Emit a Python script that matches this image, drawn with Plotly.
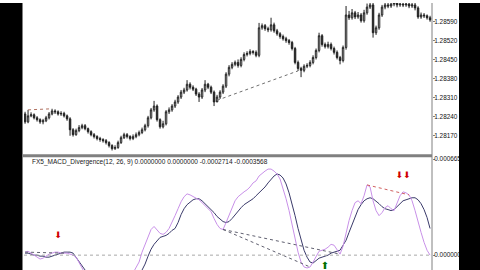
import plotly.graph_objects as go

# ---------------- data (prices in 1e-5 units, MACD in 1e-6 units) ----------------
opens = [128250, 128221, 128243, 128247, 128236, 128229, 128221, 128225, 128236, 128250,
         128261, 128258, 128250, 128252, 128243, 128232, 128192, 128174, 128189, 128200,
         128207, 128196, 128185, 128174, 128167, 128160, 128156, 128152, 128145, 128134,
         128123, 128127, 128145, 128163, 128174, 128167, 128160, 128167, 128174, 128182,
         128192, 128207, 128236, 128265, 128279, 128229, 128203, 128214, 128258, 128265,
         128279, 128294, 128312, 128330, 128338, 128359, 128348, 128341, 128323, 128312,
         128338, 128359, 128348, 128330, 128294, 128312, 128330, 128352, 128396, 128421,
         128432, 128439, 128428, 128450, 128468, 128472, 128479, 128476, 128465, 128566,
         128574, 128563, 128559, 128577, 128555, 128544, 128534, 128526, 128519, 128512,
         128490, 128439, 128417, 128410, 128425, 128428, 128439, 128457, 128483, 128537,
         128505, 128497, 128505, 128490, 128476, 128457, 128446, 128494, 128613, 128603,
         128621, 128606, 128613, 128592, 128621, 128642, 128650, 128548, 128566, 128613,
         128642, 128650, 128646, 128653, 128657, 128650, 128653, 128650, 128653, 128646,
         128650, 128639, 128606, 128613, 128610, 128603]
closes = [128221, 128243, 128247, 128236, 128229, 128221, 128225, 128236, 128250, 128261,
          128258, 128250, 128252, 128243, 128232, 128192, 128174, 128189, 128200, 128207,
          128196, 128185, 128174, 128167, 128160, 128156, 128152, 128145, 128134, 128123,
          128127, 128145, 128163, 128174, 128167, 128160, 128167, 128174, 128182, 128192,
          128207, 128236, 128265, 128279, 128229, 128203, 128214, 128258, 128265, 128279,
          128294, 128312, 128330, 128338, 128359, 128348, 128341, 128323, 128312, 128338,
          128359, 128348, 128330, 128294, 128312, 128330, 128352, 128396, 128421, 128432,
          128439, 128428, 128450, 128468, 128472, 128479, 128476, 128465, 128566, 128574,
          128563, 128559, 128577, 128555, 128544, 128534, 128526, 128519, 128512, 128490,
          128439, 128417, 128410, 128425, 128428, 128439, 128457, 128483, 128537, 128505,
          128497, 128505, 128490, 128476, 128457, 128446, 128494, 128613, 128603, 128621,
          128606, 128613, 128592, 128621, 128642, 128650, 128548, 128566, 128613, 128642,
          128650, 128646, 128653, 128657, 128650, 128653, 128650, 128653, 128646, 128650,
          128639, 128606, 128613, 128610, 128603, 128595]
highs = [128258, 128265, 128256, 128252, 128242, 128234, 128232, 128243, 128257, 128269,
         128267, 128263, 128260, 128258, 128248, 128238, 128198, 128196, 128209, 128214,
         128213, 128200, 128190, 128180, 128172, 128166, 128161, 128158, 128150, 128139,
         128135, 128152, 128170, 128181, 128180, 128172, 128175, 128182, 128189, 128200,
         128214, 128243, 128272, 128298, 128285, 128234, 128225, 128264, 128274, 128286,
         128302, 128319, 128338, 128346, 128374, 128366, 128355, 128346, 128330, 128345,
         128374, 128364, 128354, 128336, 128320, 128337, 128359, 128403, 128429, 128440,
         128446, 128450, 128458, 128476, 128480, 128487, 128484, 128483, 128584, 128582,
         128580, 128570, 128603, 128585, 128562, 128550, 128541, 128533, 128525, 128518,
         128496, 128446, 128423, 128432, 128436, 128447, 128465, 128490, 128548, 128543,
         128512, 128515, 128512, 128497, 128483, 128463, 128501, 128646, 128628, 128635,
         128628, 128624, 128620, 128632, 128655, 128668, 128657, 128574, 128621, 128650,
         128662, 128665, 128668, 128670, 128668, 128667, 128665, 128666, 128664, 128662,
         128660, 128645, 128622, 128620, 128615, 128610]
lows = [128214, 128216, 128238, 128230, 128222, 128214, 128212, 128220, 128230, 128245,
        128250, 128244, 128243, 128237, 128225, 128170, 128167, 128170, 128183, 128194,
        128190, 128178, 128168, 128160, 128153, 128148, 128145, 128138, 128127, 128116,
        128118, 128122, 128140, 128158, 128160, 128153, 128154, 128161, 128168, 128176,
        128186, 128200, 128230, 128258, 128222, 128196, 128197, 128208, 128250, 128258,
        128272, 128287, 128305, 128323, 128332, 128340, 128334, 128316, 128294, 128305,
        128330, 128341, 128323, 128279, 128300, 128305, 128323, 128345, 128388, 128414,
        128425, 128420, 128421, 128443, 128461, 128465, 128468, 128458, 128458, 128559,
        128555, 128550, 128552, 128548, 128537, 128526, 128519, 128511, 128504, 128483,
        128432, 128408, 128385, 128403, 128418, 128421, 128432, 128450, 128476, 128497,
        128490, 128490, 128483, 128468, 128450, 128432, 128439, 128486, 128595, 128596,
        128598, 128599, 128585, 128585, 128614, 128635, 128530, 128540, 128559, 128606,
        128634, 128638, 128639, 128645, 128641, 128643, 128642, 128643, 128638, 128639,
        128630, 128599, 128599, 128602, 128596, 128588]

macd_main = [21, 27, 14, 0, -14, -27, -21, -7, 7, 14,
             21, 21, 14, 14, 14, 7, 0, -14, -48, -89,
             -130, -172, -199, -226, -247, -268, -281, -295, -302, -309,
             -302, -281, -247, -213, -178, -151, -123, -89, -48, 21,
             69, 123, 178, 199, 178, 151, 144, 158, 185, 226,
             274, 322, 370, 405, 425, 418, 405, 398, 384, 364,
             343, 322, 302, 254, 213, 185, 178, 226, 274, 322,
             377, 405, 425, 439, 453, 473, 501, 515, 549, 569,
             583, 597, 597, 583, 563, 528, 466, 391, 309, 206,
             117, 21, -48, -82, -89, -82, -48, -7, 27, 34,
             41, 55, 75, 69, 34, 7, 62, 158, 240, 309,
             364, 377, 357, 412, 487, 473, 377, 309, 274, 295,
             329, 343, 322, 309, 357, 412, 439, 432, 418, 377,
             309, 226, 158, 89, 34, 0]
macd_signal = [14, 14, 7, 0, 0, -7, -7, -14, -14, -7,
               0, 7, 14, 21, 21, 21, 14, -14, -41, -69,
               -103, -144, -178, -206, -233, -254, -274, -288, -295, -302,
               -302, -295, -281, -261, -233, -206, -178, -151, -123, -103,
               -62, -7, 41, 75, 103, 123, 130, 137, 151, 172,
               185, 226, 281, 322, 350, 370, 384, 391, 391, 377,
               357, 336, 316, 295, 268, 247, 233, 226, 233, 254,
               281, 309, 329, 350, 364, 377, 391, 412, 432, 446,
               473, 501, 528, 549, 563, 556, 535, 494, 432, 357,
               274, 185, 103, 34, -14, -48, -55, -41, -21, -14,
               -7, 0, 14, 21, 27, 34, 69, 103, 158, 213,
               261, 316, 350, 377, 391, 398, 391, 377, 357, 336,
               322, 316, 309, 316, 336, 357, 377, 384, 391, 398,
               398, 384, 357, 316, 261, 185]

price_ticks = [1.28170, 1.28240, 1.28310, 1.28380, 1.28450, 1.28520, 1.28590, 1.28660]
macd_ticks = [0.0, 0.0006658]
macd_title = "FX5_MACD_Divergence(12, 26, 9) 0.0000000 0.0000000 -0.0002714 -0.0003568"

sell_bars = [11, 126]
sell_glyphs = ["⬇", "⬇⬇"]
buy_bars = [100]
price_div_lows = [(64, 91)]
price_div_highs = [(1, 9)]
macd_div_gray = [(0, 13), (66, 95), (66, 105)]
macd_div_red = [(114, 128)]

# ---------------- build ----------------
bars = list(range(len(closes)))
P = lambda v: v / 1e5
M = lambda v: v / 1e6
FONT = "Liberation Sans"

fig = go.Figure()
fig.add_trace(go.Candlestick(
    x=bars, open=[P(v) for v in opens], high=[P(v) for v in highs],
    low=[P(v) for v in lows], close=[P(v) for v in closes],
    increasing=dict(line=dict(color="#202020", width=1), fillcolor="#ffffff"),
    decreasing=dict(line=dict(color="#202020", width=1), fillcolor="#202020"),
    whiskerwidth=0, xaxis="x", yaxis="y", hoverinfo="skip"))

for a, b in price_div_lows:
    fig.add_trace(go.Scatter(x=[a, b], y=[P(lows[a]), P(lows[b])], mode="lines",
                             line=dict(color="#707070", width=1, dash="dot"),
                             xaxis="x", yaxis="y", hoverinfo="skip"))
for a, b in price_div_highs:
    fig.add_trace(go.Scatter(x=[a, b], y=[P(highs[a]), P(highs[b])], mode="lines",
                             line=dict(color="#b07060", width=1, dash="dot"),
                             xaxis="x", yaxis="y", hoverinfo="skip"))

fig.add_trace(go.Scatter(x=bars, y=[M(v) for v in macd_signal], mode="lines",
                         line=dict(color="#3a3a6a", width=1),
                         xaxis="x2", yaxis="y2", hoverinfo="skip"))
fig.add_trace(go.Scatter(x=bars, y=[M(v) for v in macd_main], mode="lines",
                         line=dict(color="#c890e8", width=1),
                         xaxis="x2", yaxis="y2", hoverinfo="skip"))

for a, b in macd_div_gray:
    fig.add_trace(go.Scatter(x=[a, b], y=[M(macd_main[a]), M(macd_main[b])], mode="lines",
                             line=dict(color="#606070", width=1, dash="dot"),
                             xaxis="x2", yaxis="y2", hoverinfo="skip"))
for a, b in macd_div_red:
    fig.add_trace(go.Scatter(x=[a, b], y=[M(macd_main[a]), M(macd_main[b])], mode="lines",
                             line=dict(color="#d06060", width=1, dash="dot"),
                             xaxis="x2", yaxis="y2", hoverinfo="skip"))

fig.add_trace(go.Scatter(x=sell_bars, y=[M(macd_main[i]) + 0.000115 for i in sell_bars],
                         mode="text", text=sell_glyphs,
                         textfont=dict(color="#d00000", size=9, family="DejaVu Sans"),
                         xaxis="x2", yaxis="y2", hoverinfo="skip"))
fig.add_trace(go.Scatter(x=buy_bars, y=[M(macd_signal[i]) - 0.00007 for i in buy_bars],
                         mode="text", text=["⬆"] * len(buy_bars),
                         textfont=dict(color="#007000", size=10, family="DejaVu Sans"),
                         xaxis="x2", yaxis="y2", hoverinfo="skip"))

W, H = 480, 270
L, R = 24, 48
PW = W - L - R
px = lambda p: (p - L) / PW
py = lambda p: (H - p) / H

axis_common = dict(side="right", ticks="outside", ticklen=2, tickcolor="#808080",
                   ticklabelstandoff=-2,
                   showgrid=False, zeroline=False, showline=False,
                   tickfont=dict(family=FONT, size=6.4, color="#101010"))

fig.update_layout(
    width=W, height=H, margin=dict(l=L, r=R, t=0, b=0),
    paper_bgcolor="#ffffff", plot_bgcolor="#ffffff", showlegend=False,
    xaxis=dict(domain=[0, 1], range=[-0.35, 135.65], visible=False,
               rangeslider=dict(visible=False), anchor="y"),
    xaxis2=dict(domain=[0, 1], range=[-0.35, 135.65], visible=False,
                matches="x", anchor="y2"),
    yaxis=dict(domain=[py(153), 1], range=[1.28102, 1.28657], anchor="x",
               tickvals=price_ticks, ticktext=[f"{v:.5f}" for v in price_ticks],
               **axis_common),
    yaxis2=dict(domain=[0, py(157)], range=[-0.000103, 0.000672], anchor="x2",
                tickvals=macd_ticks, ticktext=[f"{v:.7f}" for v in macd_ticks],
                **axis_common),
    shapes=[
        dict(type="rect", xref="paper", yref="paper", x0=px(0), x1=px(22), y0=0, y1=1,
             fillcolor="#000000", line=dict(width=0)),
        dict(type="rect", xref="paper", yref="paper", x0=px(459), x1=px(480), y0=0, y1=1,
             fillcolor="#000000", line=dict(width=0)),
        dict(type="line", xref="paper", yref="paper", x0=px(22.5), x1=px(22.5), y0=0, y1=1,
             line=dict(color="#808080", width=1)),
        dict(type="line", xref="paper", yref="paper", x0=1, x1=1, y0=0, y1=1,
             line=dict(color="#808080", width=1)),
        dict(type="rect", xref="paper", yref="paper", x0=px(22), x1=1, y0=py(156), y1=py(153),
             fillcolor="#808080", line=dict(width=0)),
        dict(type="line", xref="paper", yref="y2", x0=0, x1=1, y0=0, y1=0,
             line=dict(color="#a8a8a8", width=1, dash="dot")),
    ],
    annotations=[
        dict(xref="paper", yref="paper", x=px(30), y=py(161), text=macd_title,
             showarrow=False, xanchor="left", yanchor="middle",
             font=dict(family=FONT, size=6.5, color="#202020")),
    ],
)

fig.write_html("out.html")
